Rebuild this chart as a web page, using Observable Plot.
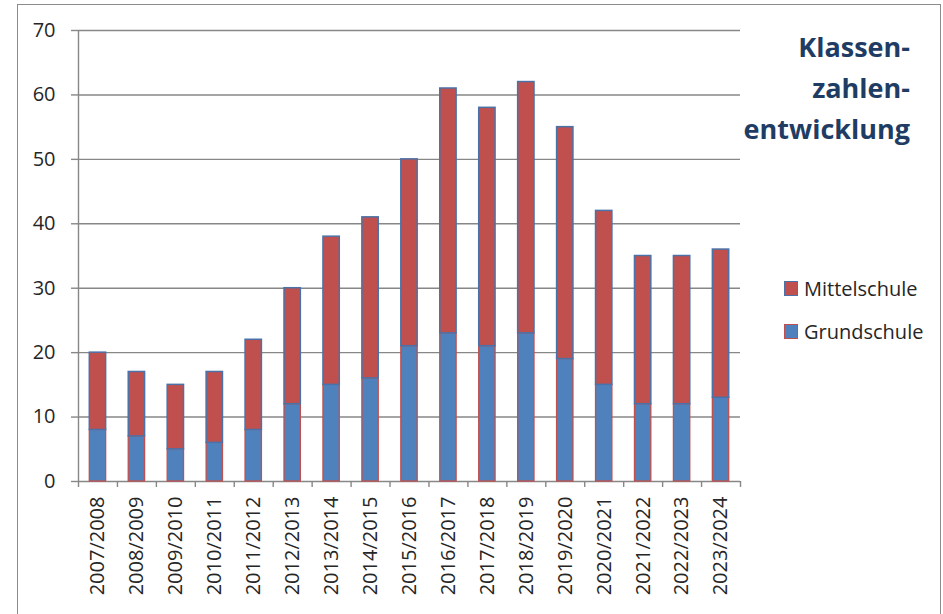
<!DOCTYPE html>
<html>
<head>
<meta charset="utf-8">
<script src="https://cdn.jsdelivr.net/npm/d3@7"></script>
<script src="https://cdn.jsdelivr.net/npm/@observablehq/plot@0.6"></script>
<style>
  html, body { margin: 0; padding: 0; background: #fff; }
  #wrap { position: relative; width: 943px; height: 614px; overflow: hidden; font-family: "Open Sans", sans-serif; }
  #border { position: absolute; left: 17px; top: 4px; width: 924px; height: 640px; border: 1.5px solid #8c8c8c; box-sizing: border-box; }
  #chart { position: absolute; left: 0; top: 0; }
  #title { position: absolute; right: 33px; top: 26px; text-align: right; font-weight: bold; font-size: 27px; line-height: 41px; color: #1f3d64; }
  .leg { position: absolute; left: 784px; font-size: 20px; color: #262626; display: flex; align-items: center; }
  .sw { width: 12px; height: 13px; margin-right: 6px; border: 1.5px solid; }
</style>
</head>
<body>
<div id="wrap">
  <div id="border"></div>
  <div id="chart"></div>
  <div id="title">Klassen-<br>zahlen-<br>entwicklung</div>
  <div class="leg" style="top:275px"><div class="sw" style="background:#c0504d;border-color:#4a72a8"></div>Mittelschule</div>
  <div class="leg" style="top:318px"><div class="sw" style="background:#4f81bd;border-color:#c0504d"></div>Grundschule</div>
</div>
<script>
const years = ["2007/2008","2008/2009","2009/2010","2010/2011","2011/2012","2012/2013","2013/2014","2014/2015","2015/2016","2016/2017","2017/2018","2018/2019","2019/2020","2020/2021","2021/2022","2022/2023","2023/2024"];
const grundschule = [8,7,5,6,8,12,15,16,21,23,21,23,19,15,12,12,13];
const mittelschule = [12,10,10,11,14,18,23,25,29,38,37,39,36,27,23,23,23];
const yTicks = [0,10,20,30,40,50,60,70];

const rows = years.map((y, i) => ({year: y, g: grundschule[i], m: mittelschule[i], total: grundschule[i] + mittelschule[i]}));

const W = 943, H = 614, mL = 78, mR = 203, mT = 30, mB = 133;
const step = (W - mL - mR) / years.length;
const grid = "#878787";

const chart = Plot.plot({
  width: W, height: H,
  marginLeft: mL, marginRight: mR, marginTop: mT, marginBottom: mB,
  style: {fontFamily: "'Open Sans', sans-serif", fontSize: "20px", color: "#262626", background: "transparent"},
  x: {domain: years, paddingInner: 0.58, paddingOuter: 0.29, round: false, label: null},
  y: {domain: [0, 70], label: null},
  marks: [
    Plot.gridY(yTicks, {stroke: grid, strokeOpacity: 1, strokeWidth: 1.4}),
    Plot.axisY(yTicks, {tickSize: 7, tickPadding: 16, stroke: grid, strokeWidth: 1.4, fontSize: 20, fill: "#262626", label: null}),
    Plot.tickX([years[0]], {x: d => d, dx: -step / 2, stroke: grid, strokeWidth: 1.4}),
    Plot.axisX(years, {tickSize: 6, text: null, dx: -step / 2, stroke: grid, strokeWidth: 1.4, label: null}),
    Plot.axisX([years[years.length - 1]], {tickSize: 6, text: null, dx: step / 2, stroke: grid, strokeWidth: 1.4, label: null}),
    Plot.axisX(years, {tickSize: 0, tickPadding: 15, tickRotate: -90, fontSize: 20, fill: "#262626", label: null}),
    Plot.barY(rows, {x: "year", y1: 0, y2: "g", fill: "#4f81bd", stroke: "#c0504d", strokeWidth: 1.3}),
    Plot.barY(rows, {x: "year", y1: "g", y2: "total", fill: "#c0504d", stroke: "#4a72a8", strokeWidth: 1.5})
  ]
});
document.getElementById("chart").appendChild(chart);
</script>
</body>
</html>
